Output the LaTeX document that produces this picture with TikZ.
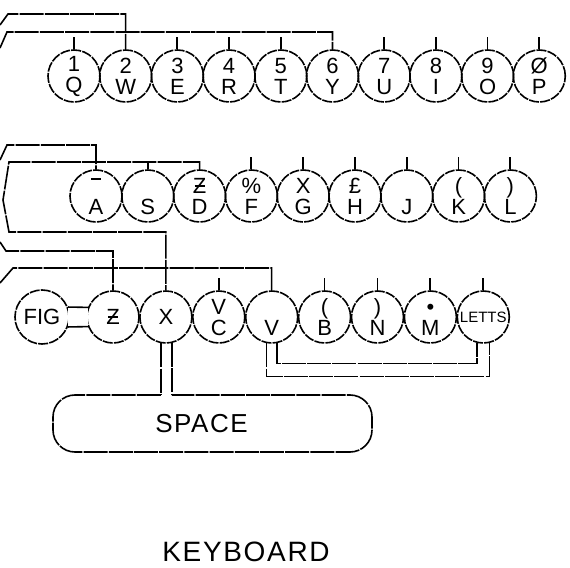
\documentclass[tikz,border=0pt]{standalone}
\usepackage{fontspec}
\setmainfont{Liberation Sans}
\newfontfamily\widefont[LetterSpace=6]{Liberation Sans}
\usetikzlibrary{calc}
\newcommand{\strokez}{\makebox[0pt][l]{\hspace{0.08em}\rule[0.30em]{0.45em}{0.08em}}Z}
\newcommand{\barover}{\rule[0.62em]{0.45em}{0.08em}}

\begin{document}
\begin{tikzpicture}[x=0.5pt,y=-0.5pt,line width=0.8pt,
    keycap/.style={circle,draw,dash pattern=on 5pt off 0.6pt,minimum size=26pt,
      inner sep=0pt,align=center,font=\fontsize{11}{10.5}\selectfont},
    wire/.style={dash pattern=on 12pt off 0.6pt},
    stub/.style={line width=0.9pt}]
  \useasboundingbox (0,0) rectangle (570,568);

  \foreach \hi/\lo/\nm [count=\i from 0] in {1/Q/q,2/W/w,3/E/e,4/R/r,5/T/t,
      6/Y/y,7/U/u,8/I/i,9/O/o,Ø/P/p}
    \node[keycap] (k\nm) at (74+51.7*\i,76) {\vphantom{9}\hi\\\lo};
  \foreach \hi/\lo/\nm [count=\i from 0] in {\barover/A/a,{}/S/s,\strokez/D/d,
      \%/F/f,X/G/g,£/H/h,{}/J/j,{(}/K/k,{)}/L/l}
    \node[keycap] (k\nm) at (96+51.8*\i,196) {\vphantom{9}\hi\\\lo};
  \node[keycap,minimum size=27pt] (kfig) at (42,317) {FIG};
  \foreach \txt/\nm [count=\i from 0] in {\strokez/z,X/x,\vphantom{9}V\\C/c,
      \vphantom{9}\\V/v,\vphantom{9}(\\B/b,\vphantom{9})\\N/n,\vphantom{9}•\\M/m}
    \node[keycap] (k\nm) at (113+52.9*\i,317) {\txt};
  \node[keycap,font=\fontsize{7.5}{7.5}\selectfont] (kletts) at (483.3,317) {LETTS};

  \node[minimum width=159.5pt,minimum height=28.5pt,inner sep=0pt,outer sep=0pt,
    font=\widefont\fontsize{13}{13}\selectfont] (space) at (212.5,423.5)
    {SPACE\hspace*{11pt}};
  \node[font=\widefont\fontsize{14}{14}\selectfont] (title) at (246,552) {KEYBOARD};

  \foreach \nm in {q,e,r,t,u,i,o,p,f,g,h,j,k,l,c,b,n,m,letts}
    \draw[stub] (k\nm.north) -- ++(0,-12);
  \draw[stub] (ks.north) -- ++(0,-7);

  \coordinate (wend) at (0,25);
  \coordinate (yend) at (0,48);
  \coordinate (aend) at (0,160);
  \coordinate (zend) at (0,242);
  \coordinate (vend) at (0,283);
  \draw[wire] (wend) -- (8,14) -| (kw.north);
  \draw[wire] (yend) -- (7,32) -| (ky.north);
  \draw[wire] (aend) -- (7,145) -| (ka.north);
  \draw[wire] (kd.north) |- (9,162) -- (3,200) -- (9,232) -| (kx.north);
  \draw[wire] (zend) -- (6,251) -| (kz.north);
  \draw[wire] (vend) -- (13,268) -| (kv.north);

  \fill[white] (kfig.21) rectangle (kz.201);
  \draw[wire] (kfig.21) -- (kz.159);
  \draw[wire] (kfig.-21) -- (kz.201);

  \draw[wire] (kv.-79) -- ++(0,20) -| (kletts.-103);
  \draw[wire] (kv.-101) -- ++(0,33) -| (kletts.-77);

  \coordinate (sl) at (space.north -| kx.-101);
  \coordinate (sr) at (space.north -| kx.-77);
  \draw[wire] (kx.-101) -- (sl);
  \draw[wire] (kx.-77) -- (sr);
  \draw[wire,rounded corners=11pt] (sl) -- (space.north west) -- (space.south west)
    -- (space.south east) -- (space.north east) -- (sr);
\end{tikzpicture}
\end{document}
